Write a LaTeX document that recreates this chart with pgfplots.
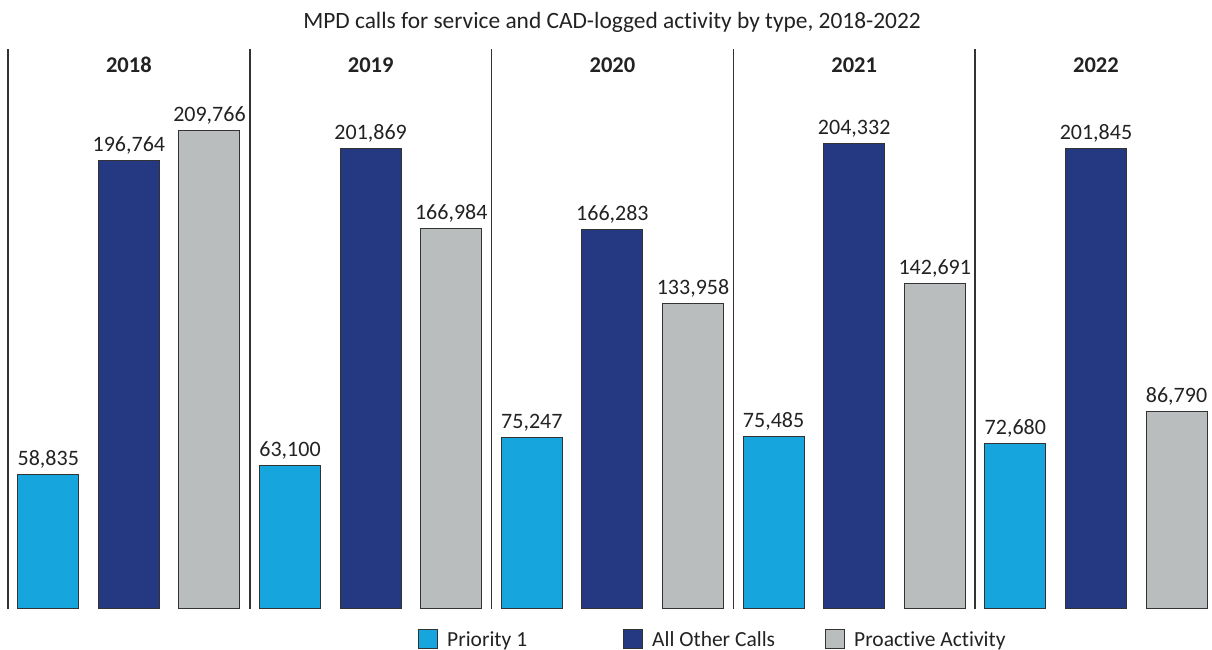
\documentclass[border=0pt]{standalone}
\usepackage{pgfplots}
\pgfplotsset{compat=1.18}
\usepackage{fontspec}
\setmainfont{Carlito}[Ligatures=NoCommon]
\definecolor{pone}{HTML}{16A5DC}
\definecolor{other}{HTML}{253882}
\definecolor{proact}{HTML}{BABDBE}
\definecolor{edge}{HTML}{333333}
\definecolor{txt}{HTML}{222222}

\begin{document}
\begin{tikzpicture}[x=1pt,y=1pt]
\useasboundingbox (0,0) rectangle (1212,650);
\node[anchor=base, font=\fontsize{23.4}{27}\selectfont, text=txt, inner sep=0pt] at (612,621) {MPD calls for service and CAD-logged activity by type, 2018-2022};
\begin{axis}[
  at={(8pt,41pt)}, anchor=south west,
  scale only axis, width=1204pt, height=560pt,
  xmin=-0.5, xmax=14.44, ymin=0, ymax=245600,
  axis line style={draw=none},
  xtick=\empty, ytick=\empty,
  extra x ticks={-0.5,2.5,5.5,8.5,11.5},
  extra x tick labels={},
  extra x tick style={grid=major, major tick length=0pt,
     major grid style={draw=black!80, line width=1.6pt}},
  ybar, bar width=61pt, bar shift=0pt,
  clip=false,
  nodes near coords,
  every node near coord/.append style={anchor=base, yshift=9pt,
     font=\fontsize{22}{26}\selectfont, text=txt, inner sep=0pt},
  /pgf/number format/.cd, fixed, precision=0, 1000 sep={,}, assume math mode=true,
  /pgfplots/.cd,
  legend columns=3,
  legend style={at={(0.3405,-0.0536)}, anchor=west, draw=none, fill=none,
     inner sep=0pt, column sep=0pt, nodes={inner sep=0pt, anchor=base west},
     font=\fontsize{21.5}{26}\selectfont, text=txt},
]
\addplot[fill=pone, draw=edge, line width=1pt,
  legend image code/.code={\draw[fill=pone,draw=edge,line width=1pt] (0pt,-2pt) rectangle (19pt,17pt);}]
  coordinates {(0,58835) (3,63100) (6,75247) (9,75485) (12,72680)};
\addlegendentry{\hspace*{9pt}\makebox[176pt][l]{Priority 1}}
\addplot[fill=other, draw=edge, line width=1pt,
  legend image code/.code={\draw[fill=other,draw=edge,line width=1pt] (0pt,-2pt) rectangle (19pt,17pt);}]
  coordinates {(1,196764) (4,201869) (7,166283) (10,204332) (13,201845)};
\addlegendentry{\hspace*{9pt}\makebox[173pt][l]{All Other Calls}}
\addplot[fill=proact, draw=edge, line width=1pt,
  legend image code/.code={\draw[fill=proact,draw=edge,line width=1pt] (0pt,-2pt) rectangle (19pt,17pt);}]
  coordinates {(2,209766) (5,166984) (8,133958) (11,142691) (14,86790)};
\addlegendentry{\hspace*{9pt}Proactive Activity}
\foreach \yr [count=\i from 0] in {2018,2019,2020,2021,2022}{
  \edef\temp{\noexpand\node[anchor=base, font=\noexpand\fontsize{22.5}{26}\noexpand\selectfont\noexpand\bfseries, text=txt, inner sep=0pt] at (axis cs:{3*\i+1},235500) {\yr};}
  \temp
}
\end{axis}
\end{tikzpicture}
\end{document}
